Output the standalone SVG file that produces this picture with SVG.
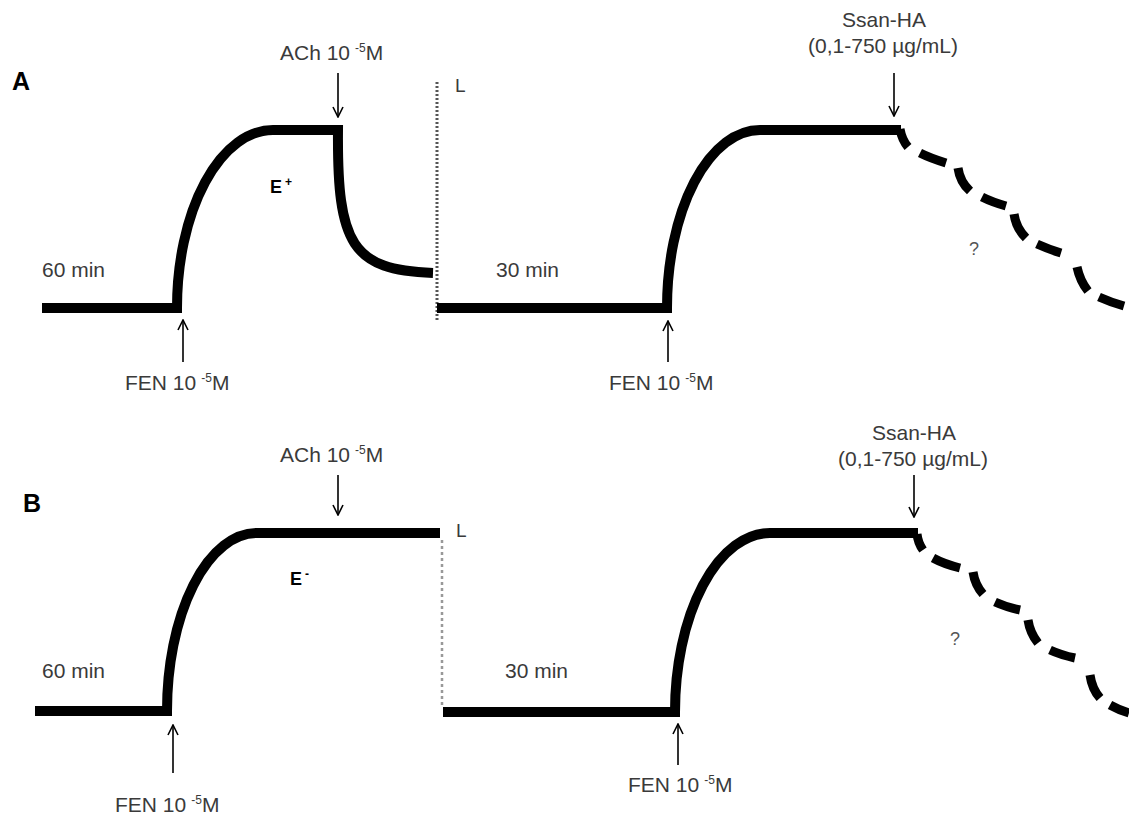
<svg xmlns="http://www.w3.org/2000/svg" width="1129" height="816" viewBox="0 0 1129 816">
<style>
.trace{fill:none;stroke:#000;stroke-width:10;stroke-linejoin:miter;stroke-linecap:butt}
.dash{fill:none;stroke:#000;stroke-width:9;stroke-linecap:butt}
.dot{fill:none;stroke:#555;stroke-width:3;stroke-dasharray:2 2}
.arr{fill:none;stroke:#000;stroke-width:1.6;marker-end:url(#ah)}
.lbl{font-family:"Liberation Sans",Arial,sans-serif;font-size:21px;fill:#3a3a3a}
.sup{font-size:12px}
.panel{font-family:"Liberation Sans",Arial,sans-serif;font-size:25px;font-weight:bold;fill:#000}
.e{font-family:"Liberation Sans",Arial,sans-serif;font-size:18px;font-weight:bold;fill:#000}
.q{font-family:"Liberation Sans",Arial,sans-serif;font-size:18px;fill:#555}
</style>
<defs>
<marker id="ah" viewBox="0 0 12 12" refX="11" refY="6" markerWidth="12" markerHeight="12" orient="auto" markerUnits="userSpaceOnUse">
<path d="M1,1 L11,6 L1,11" fill="none" stroke="#000" stroke-width="1.6"/>
</marker>
</defs>
<rect width="1129" height="816" fill="#fff"/>

<g id="panelA">
<text class="panel" x="12" y="90">A</text>
<g id="A-trace1">
<path class="trace" d="M42,308 H177 A96 178 0 0 1 273,130 H338 C337,245 352,270 433,273"/>
</g>
<g id="A-L">
<line class="dot" x1="437" y1="82" x2="437" y2="322"/>
<text class="lbl" x="455" y="92" style="font-size:19px">L</text>
</g>
<g id="A-trace2">
<path class="trace" d="M437,308 H667 A93 178 0 0 1 760,130 H901"/>
</g>
<g id="A-dashed">
<path class="dash" d="M900,129 Q902,140 908,147"/>
<path class="dash" d="M920,153 Q930,158 946,163"/>
<path class="dash" d="M958,168 Q960,182 970,191"/>
<path class="dash" d="M982,197 Q992,202 1006,206"/>
<path class="dash" d="M1014,214 Q1016,228 1026,238"/>
<path class="dash" d="M1037,244 Q1048,249 1061,253"/>
<path class="dash" d="M1077,267 Q1080,281 1088,291"/>
<path class="dash" d="M1099,297 Q1110,302 1124,306"/>
</g>
<text class="e" x="270" y="193">E<tspan class="sup" dx="3" dy="-7">+</tspan></text>
<text class="lbl" x="42" y="277">60 min</text>
<text class="lbl" x="496" y="277">30 min</text>
<text class="q" x="974" y="255" text-anchor="middle">?</text>
<text class="lbl" x="280" y="60">ACh 10<tspan class="sup" dx="5" dy="-8">-5</tspan><tspan dy="8">M</tspan></text>
<text class="lbl" x="125" y="390">FEN 10<tspan class="sup" dx="5" dy="-8">-5</tspan><tspan dy="8">M</tspan></text>
<text class="lbl" x="609" y="390">FEN 10<tspan class="sup" dx="5" dy="-8">-5</tspan><tspan dy="8">M</tspan></text>
<text class="lbl" x="884" y="27" text-anchor="middle">Ssan-HA</text>
<text class="lbl" x="883" y="53" text-anchor="middle">(0,1-750 µg/mL)</text>
</g>

<g id="panelB">
<text class="panel" x="23" y="512">B</text>
<g id="B-trace1">
<path class="trace" d="M35,711 H167 A90 178 0 0 1 257,533 H440"/>
</g>
<g id="B-L">
<line class="dot" x1="442" y1="540" x2="442" y2="705" style="stroke:#999;stroke-width:2.5;stroke-dasharray:3 3"/>
<text class="lbl" x="456" y="537" style="font-size:19px">L</text>
</g>
<g id="B-trace2">
<path class="trace" d="M443,712 H675 A95 179 0 0 1 770,533 H918"/>
</g>
<g id="B-dashed">
<path class="dash" d="M917,534 Q918,543 923,550"/>
<path class="dash" d="M933,558 Q944,564 960,568"/>
<path class="dash" d="M973,572 Q975,585 983,594"/>
<path class="dash" d="M995,602 Q1006,607 1020,610"/>
<path class="dash" d="M1028,620 Q1030,633 1038,643"/>
<path class="dash" d="M1050,650 Q1061,655 1075,658"/>
<path class="dash" d="M1090,675 Q1092,689 1100,698"/>
<path class="dash" d="M1110,705 Q1119,710 1129,713"/>
</g>
<text class="e" x="290" y="585">E<tspan class="sup" dx="3" dy="-7">-</tspan></text>
<text class="lbl" x="42" y="678">60 min</text>
<text class="lbl" x="505" y="678">30 min</text>
<text class="q" x="955" y="645" text-anchor="middle">?</text>
<text class="lbl" x="280" y="462">ACh 10<tspan class="sup" dx="5" dy="-8">-5</tspan><tspan dy="8">M</tspan></text>
<text class="lbl" x="115" y="812">FEN 10<tspan class="sup" dx="5" dy="-8">-5</tspan><tspan dy="8">M</tspan></text>
<text class="lbl" x="628" y="792">FEN 10<tspan class="sup" dx="5" dy="-8">-5</tspan><tspan dy="8">M</tspan></text>
<text class="lbl" x="914" y="440" text-anchor="middle">Ssan-HA</text>
<text class="lbl" x="913" y="466" text-anchor="middle">(0,1-750 µg/mL)</text>
</g>

<g id="connectors">
<line class="arr" x1="338" y1="73" x2="338" y2="117"/>
<line class="arr" x1="183" y1="362" x2="183" y2="320"/>
<line class="arr" x1="894" y1="73" x2="894" y2="116"/>
<line class="arr" x1="668" y1="362" x2="668" y2="321"/>
<line class="arr" x1="338" y1="475" x2="338" y2="515"/>
<line class="arr" x1="173" y1="773" x2="173" y2="725"/>
<line class="arr" x1="914" y1="475" x2="914" y2="517"/>
<line class="arr" x1="678" y1="765" x2="678" y2="724"/>
</g>
</svg>
